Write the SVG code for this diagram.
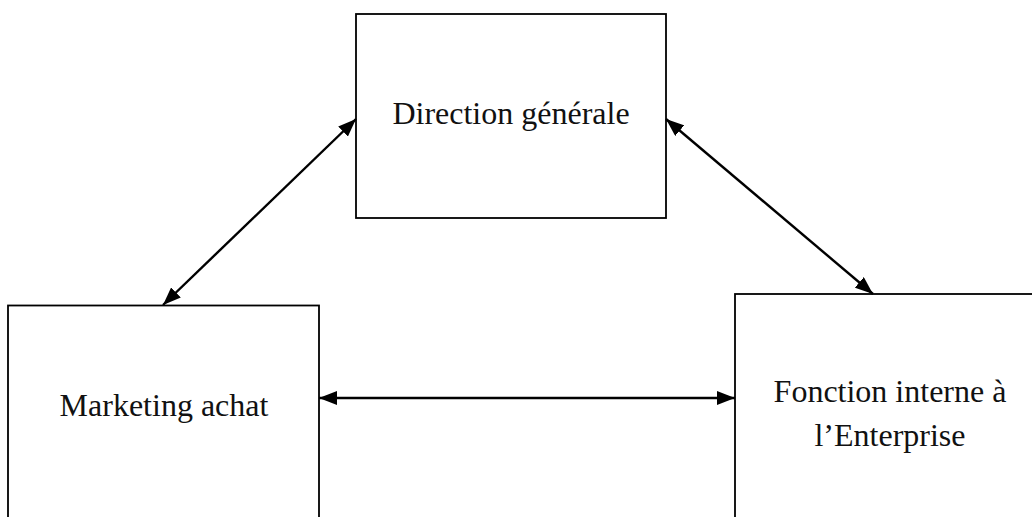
<svg xmlns="http://www.w3.org/2000/svg" width="1032" height="517" viewBox="0 0 1032 517">
  <style>
    .box { fill: #ffffff; stroke: #000000; stroke-width: 1.8; }
    .label { font-family: "Liberation Serif", "Times New Roman", serif; font-size: 32px; fill: #111111; text-anchor: middle; }
    .link { stroke: #000000; stroke-width: 2.4; fill: none; marker-start: url(#head); marker-end: url(#head); }
  </style>
  <defs>
    <!-- filled triangular arrowhead, sized in user units -->
    <marker id="head" viewBox="0 0 18 14" refX="18" refY="7" markerWidth="18" markerHeight="14" markerUnits="userSpaceOnUse" orient="auto-start-reverse">
      <path d="M0,0 L18,7 L0,14 Z" fill="#000000"/>
    </marker>
  </defs>

  <rect width="1032" height="517" fill="#ffffff"/>

  <g id="node-direction">
    <rect class="box" x="356" y="14" width="310" height="204"/>
    <text class="label" x="511" y="124">Direction générale</text>
  </g>

  <g id="node-marketing">
    <rect class="box" x="8" y="305.5" width="311" height="240"/>
    <text class="label" x="164" y="416">Marketing achat</text>
  </g>

  <g id="node-fonction">
    <rect class="box" x="735" y="294" width="400" height="260"/>
    <text class="label" x="890" y="402">Fonction interne à</text>
    <text class="label" x="890" y="446">l’Enterprise</text>
  </g>

  <g id="connectors">
    <line class="link" x1="163" y1="305" x2="356" y2="119"/>
    <line class="link" x1="666" y1="119" x2="873" y2="294"/>
    <line class="link" x1="319" y1="398" x2="735" y2="398"/>
  </g>
</svg>
